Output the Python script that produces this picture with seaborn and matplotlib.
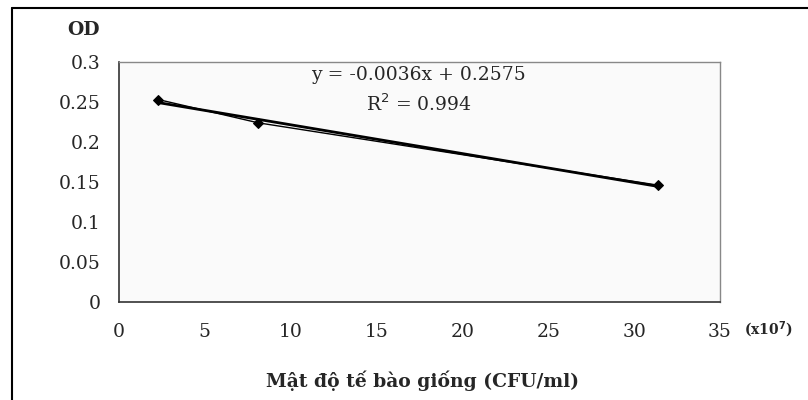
import matplotlib
matplotlib.use("Agg")
import matplotlib.pyplot as plt
import seaborn as sns
import numpy as np
import pandas as pd

# Data
density = [2.3, 8.1, 31.4]
od = [0.253, 0.224, 0.146]
slope = -0.0036
intercept = 0.2575
r2 = 0.994
xticks = [0, 5, 10, 15, 20, 25, 30, 35]
yticks = [0, 0.05, 0.1, 0.15, 0.2, 0.25, 0.3]
ytick_labels = ['0', '0.05', '0.1', '0.15', '0.2', '0.25', '0.3']

sns.set_theme(style="white")
plt.rcParams['font.family'] = ['DejaVu Serif', 'Liberation Serif']

fig = plt.figure(figsize=(8.08, 4.0), dpi=100)
ax = fig.add_axes([119/808, 1-302/400, (720-119)/808, (302-62)/400])
ax.set_facecolor('#fafafa')

df = pd.DataFrame({'x': density, 'y': od})
sns.lineplot(data=df, x='x', y='y', ax=ax, color='black', lw=1.0,
             marker='D', markersize=5.5, markeredgecolor='black')

xt = np.array([min(density), max(density)])
sns.lineplot(x=xt, y=slope*xt + intercept, ax=ax, color='black', lw=2.0)

ax.set_xlim(0, 35)
ax.set_ylim(0, 0.3)
ax.set_xticks(xticks)
ax.set_yticks(yticks)
ax.set_xticklabels([str(v) for v in xticks])
ax.set_yticklabels(ytick_labels)
ax.tick_params(axis='y', direction='out', length=8, width=1, color='#333333',
               labelsize=13.5, pad=5)
ax.tick_params(axis='x', direction='out', length=6, width=1, color='#333333',
               labelsize=13.5, pad=9)
ax.set_xlabel('')
ax.set_ylabel('')
for s in ['left', 'bottom']:
    ax.spines[s].set_color('#333333')
    ax.spines[s].set_linewidth(1.2)
for s in ['top', 'right']:
    ax.spines[s].set_color('#888888')
    ax.spines[s].set_linewidth(1.0)

ax.text(0.499, 0.946, 'y = -0.0036x + 0.2575', transform=ax.transAxes,
        ha='center', va='center', fontsize=13.5)
ax.text(0.499, 0.825, r'R$^2$ = 0.994', transform=ax.transAxes,
        ha='center', va='center', fontsize=13.5)

fig.text(84/808, 1-30/400, 'OD', ha='center', va='center', fontsize=13.5, fontweight='bold')
fig.text(423/808, 1-381/400, 'Mật độ tế bào giống (CFU/ml)', ha='center', va='center',
         fontsize=13.5, fontweight='bold')
fig.text(768/808, 1-330/400, r'(x10$^{\mathbf{7}}$)', ha='center', va='center',
         fontsize=10, fontweight='bold')

# outer frame (left and top edges)
fig.add_artist(plt.Line2D([12/808, 12/808], [0, 1-8/400], transform=fig.transFigure,
                          color='black', lw=1.5))
fig.add_artist(plt.Line2D([12/808, 1], [1-8/400, 1-8/400], transform=fig.transFigure,
                          color='black', lw=1.5))

fig.savefig('out.png', dpi=100, facecolor='white')
